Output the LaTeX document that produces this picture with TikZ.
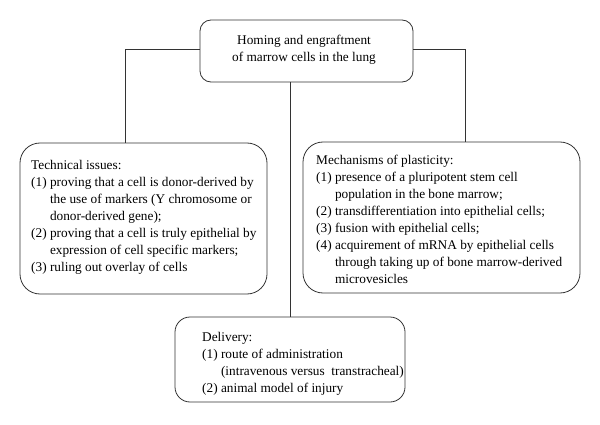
\documentclass[tikz,border=0pt]{standalone}
\usepackage{fontspec}
\setmainfont{Liberation Serif}
\tikzset{
  box/.style={draw=black!80, line width=0.8pt, rectangle, inner sep=0pt},
  txt/.style={anchor=west, inner sep=0pt, align=left, font=\fontsize{13.3}{17}\selectfont},
  conn/.style={draw=black!80, line width=0.8pt}
}
\newcommand{\itm}[1]{(#1)}
\begin{document}
\begin{tikzpicture}[x=1pt,y=1pt]
        \useasboundingbox (0,0) rectangle (600,424);
        % boxes
        \node[box, rounded corners=11pt, minimum width=213pt, minimum height=62pt] (home) at (306.5,373) {};
        \node[box, rounded corners=20pt, minimum width=247pt, minimum height=151pt] (tech) at (143.5,205.5) {};
        \node[box, rounded corners=20pt, minimum width=277pt, minimum height=151pt] (mech) at (441.5,206.5) {};
        \node[box, rounded corners=15pt, minimum width=230pt, minimum height=85pt] (deliv) at (290,64.5) {};
        % texts
        \node[txt, anchor=center, align=center] (hometext) at (304,374) {Homing and engraftment\\of marrow cells in the lung};
        \node[txt] (techtext) at (31,207) {\begin{tabular}{@{}l@{ }l@{}}
            \multicolumn{2}{@{}l@{}}{Technical issues:}\\
            \itm{1} & proving that a cell is donor-derived by\\
                    & the use of markers (Y chromosome or\\
                    & donor-derived gene);\\
            \itm{2} & proving that a cell is truly epithelial by\\
                    & expression of cell specific markers;\\
            \itm{3} & ruling out overlay of cells
          \end{tabular}};
        \node[txt] (mechtext) at (316,203) {\begin{tabular}{@{}l@{ }l@{}}
            \multicolumn{2}{@{}l@{}}{Mechanisms of plasticity:}\\
            \itm{1} & presence of a pluripotent stem cell\\
                    & population in the bone marrow;\\
            \itm{2} & transdifferentiation into epithelial cells;\\
            \itm{3} & fusion with epithelial cells;\\
            \itm{4} & acquirement of mRNA by epithelial cells\\
                    & through taking up of bone marrow-derived\\
                    & microvesicles
          \end{tabular}};
        \node[txt] (delivtext) at (202,60) {\begin{tabular}{@{}l@{ }l@{}}
            \multicolumn{2}{@{}l@{}}{Delivery:}\\
            \itm{1} & route of administration\\
                    & (intravenous versus\ \ transtracheal)\\
            \itm{2} & animal model of injury
          \end{tabular}};
        % connectors
        \draw[conn] ([yshift=2pt]home.west) -| ([xshift=-18.5pt]tech.north);
        \draw[conn] ([yshift=2pt]home.east) -| ([xshift=23.5pt]mech.north);
        \draw[conn] (deliv.north) -- (deliv.north |- home.south);
\end{tikzpicture}
\end{document}
